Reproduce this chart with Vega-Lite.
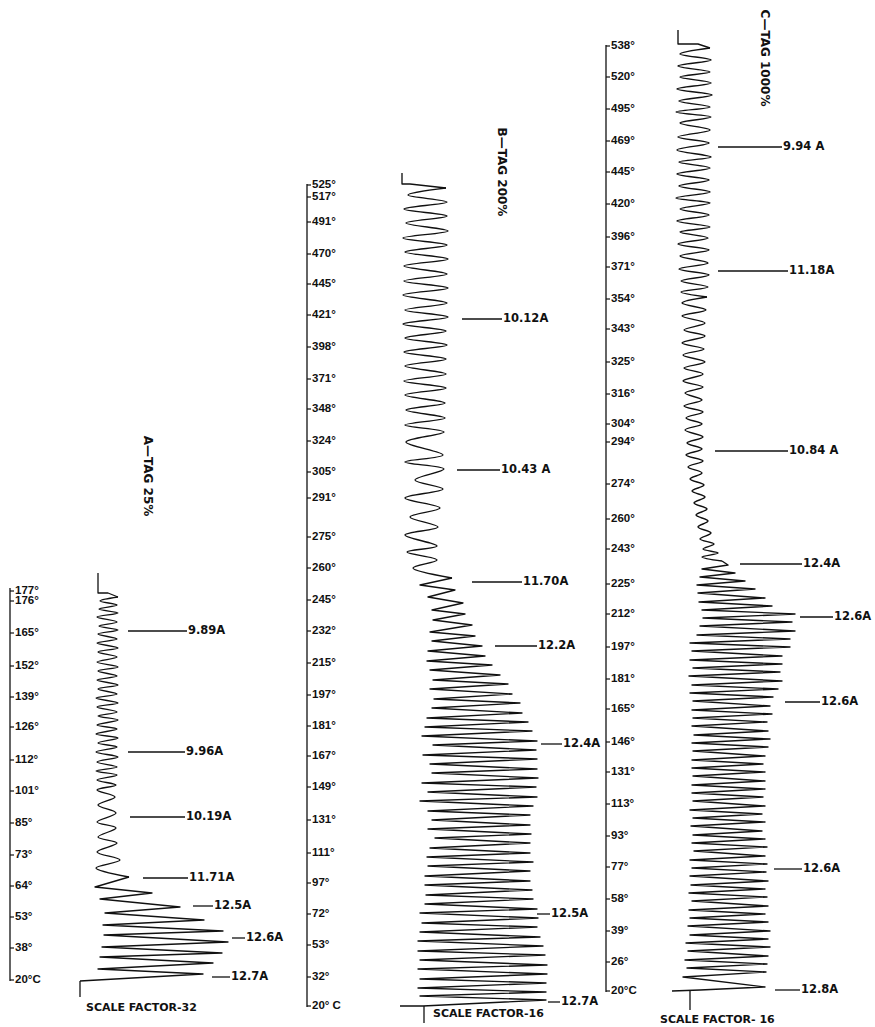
{
"$schema":"https://vega.github.io/schema/vega-lite/v6.json",
"width":875,"height":1027,
"autosize":{"type":"fit","contains":"padding"},
"padding":0,
"background":"white",
"config":{"view":{"stroke":null}},
"datasets":{
"trace":[
{"t":"A0","x":98,"y":573},{"t":"A0","x":98,"y":593},{"t":"A0","x":108,"y":593},{"t":"A0","x":118,"y":597},
{"t":"A1","x":118,"y":597},{"t":"A1","x":100,"y":601},{"t":"A1","x":117,"y":605},{"t":"A1","x":99,"y":609},{"t":"A1","x":118,"y":613},{"t":"A1","x":97,"y":617},{"t":"A1","x":117,"y":622},{"t":"A1","x":99,"y":626},{"t":"A1","x":118,"y":630},{"t":"A1","x":98,"y":634},{"t":"A1","x":117,"y":639},{"t":"A1","x":97,"y":643},{"t":"A1","x":118,"y":648},{"t":"A1","x":98,"y":652},{"t":"A1","x":117,"y":657},{"t":"A1","x":97,"y":662},{"t":"A1","x":118,"y":667},{"t":"A1","x":98,"y":671},{"t":"A1","x":117,"y":676},{"t":"A1","x":97,"y":680},{"t":"A1","x":118,"y":685},{"t":"A1","x":98,"y":689},{"t":"A1","x":117,"y":694},{"t":"A1","x":96,"y":698},{"t":"A1","x":118,"y":703},{"t":"A1","x":97,"y":707},{"t":"A1","x":117,"y":712},{"t":"A1","x":98,"y":716},{"t":"A1","x":118,"y":720},{"t":"A1","x":97,"y":725},{"t":"A1","x":117,"y":729},{"t":"A1","x":96,"y":734},{"t":"A1","x":118,"y":738},{"t":"A1","x":98,"y":743},{"t":"A1","x":117,"y":747},{"t":"A1","x":96,"y":752},{"t":"A1","x":118,"y":757},{"t":"A1","x":97,"y":762},{"t":"A1","x":117,"y":767},{"t":"A1","x":96,"y":771},{"t":"A1","x":117,"y":775},{"t":"A1","x":97,"y":780},{"t":"A1","x":116,"y":785},{"t":"A1","x":97,"y":790},{"t":"A1","x":115,"y":797},{"t":"A1","x":98,"y":805},{"t":"A1","x":116,"y":813},{"t":"A1","x":97,"y":822},{"t":"A1","x":116,"y":828},{"t":"A1","x":98,"y":837},{"t":"A1","x":117,"y":843},{"t":"A1","x":97,"y":852},{"t":"A1","x":120,"y":860},{"t":"A1","x":96,"y":868},{"t":"A1","x":129,"y":877},
{"t":"A2","x":129,"y":877},{"t":"A2","x":95,"y":887},{"t":"A2","x":152,"y":893},{"t":"A2","x":100,"y":899},{"t":"A2","x":180,"y":907},{"t":"A2","x":105,"y":913},{"t":"A2","x":204,"y":920},{"t":"A2","x":103,"y":925},{"t":"A2","x":223,"y":931},{"t":"A2","x":104,"y":935},{"t":"A2","x":228,"y":942},{"t":"A2","x":102,"y":947},{"t":"A2","x":222,"y":953},{"t":"A2","x":100,"y":957},{"t":"A2","x":213,"y":963},{"t":"A2","x":98,"y":969},{"t":"A2","x":203,"y":974},{"t":"A2","x":80,"y":981},
{"t":"B0","x":402,"y":173},{"t":"B0","x":402,"y":184},{"t":"B0","x":410,"y":184},{"t":"B0","x":446,"y":188},
{"t":"B1","x":446,"y":188},{"t":"B1","x":408,"y":195},{"t":"B1","x":447,"y":202},{"t":"B1","x":404,"y":209},{"t":"B1","x":447,"y":216},{"t":"B1","x":406,"y":223},{"t":"B1","x":448,"y":231},{"t":"B1","x":403,"y":238},{"t":"B1","x":447,"y":245},{"t":"B1","x":405,"y":252},{"t":"B1","x":448,"y":259},{"t":"B1","x":404,"y":266},{"t":"B1","x":447,"y":274},{"t":"B1","x":404,"y":281},{"t":"B1","x":448,"y":288},{"t":"B1","x":403,"y":295},{"t":"B1","x":447,"y":303},{"t":"B1","x":405,"y":310},{"t":"B1","x":448,"y":317},{"t":"B1","x":403,"y":324},{"t":"B1","x":446,"y":331},{"t":"B1","x":405,"y":338},{"t":"B1","x":447,"y":345},{"t":"B1","x":404,"y":352},{"t":"B1","x":446,"y":359},{"t":"B1","x":405,"y":366},{"t":"B1","x":446,"y":374},{"t":"B1","x":404,"y":381},{"t":"B1","x":446,"y":388},{"t":"B1","x":405,"y":395},{"t":"B1","x":445,"y":403},{"t":"B1","x":406,"y":410},{"t":"B1","x":445,"y":418},{"t":"B1","x":405,"y":425},{"t":"B1","x":444,"y":432},{"t":"B1","x":406,"y":442},{"t":"B1","x":443,"y":455},{"t":"B1","x":405,"y":462},{"t":"B1","x":444,"y":469},{"t":"B1","x":415,"y":480},{"t":"B1","x":443,"y":489},{"t":"B1","x":405,"y":498},{"t":"B1","x":440,"y":508},{"t":"B1","x":410,"y":517},{"t":"B1","x":438,"y":527},{"t":"B1","x":405,"y":535},{"t":"B1","x":437,"y":546},{"t":"B1","x":407,"y":552},{"t":"B1","x":437,"y":560},{"t":"B1","x":413,"y":568},{"t":"B1","x":452,"y":578},
{"t":"B2","x":452,"y":578},{"t":"B2","x":420,"y":585},{"t":"B2","x":455,"y":590},{"t":"B2","x":428,"y":597},{"t":"B2","x":463,"y":603},{"t":"B2","x":432,"y":610},{"t":"B2","x":465,"y":614},{"t":"B2","x":433,"y":620},{"t":"B2","x":472,"y":625},{"t":"B2","x":430,"y":632},{"t":"B2","x":475,"y":636},{"t":"B2","x":432,"y":641},{"t":"B2","x":482,"y":646},{"t":"B2","x":428,"y":651},{"t":"B2","x":485,"y":656},{"t":"B2","x":427,"y":661},{"t":"B2","x":492,"y":665},{"t":"B2","x":430,"y":670},{"t":"B2","x":500,"y":675},{"t":"B2","x":433,"y":680},{"t":"B2","x":508,"y":684},{"t":"B2","x":430,"y":689},{"t":"B2","x":512,"y":694},{"t":"B2","x":434,"y":699},{"t":"B2","x":520,"y":703},{"t":"B2","x":432,"y":708},{"t":"B2","x":522,"y":713},{"t":"B2","x":427,"y":718},{"t":"B2","x":528,"y":722},{"t":"B2","x":425,"y":727},{"t":"B2","x":532,"y":731},{"t":"B2","x":422,"y":736},{"t":"B2","x":537,"y":741},{"t":"B2","x":433,"y":745},{"t":"B2","x":536,"y":750},{"t":"B2","x":423,"y":755},{"t":"B2","x":537,"y":759},{"t":"B2","x":430,"y":764},{"t":"B2","x":537,"y":769},{"t":"B2","x":432,"y":773},{"t":"B2","x":538,"y":778},{"t":"B2","x":422,"y":783},{"t":"B2","x":536,"y":787},{"t":"B2","x":428,"y":792},{"t":"B2","x":537,"y":797},{"t":"B2","x":420,"y":801},{"t":"B2","x":533,"y":806},{"t":"B2","x":428,"y":811},{"t":"B2","x":530,"y":815},{"t":"B2","x":432,"y":820},{"t":"B2","x":530,"y":825},{"t":"B2","x":428,"y":829},{"t":"B2","x":531,"y":834},{"t":"B2","x":435,"y":838},{"t":"B2","x":530,"y":843},{"t":"B2","x":430,"y":848},{"t":"B2","x":530,"y":853},{"t":"B2","x":427,"y":857},{"t":"B2","x":533,"y":862},{"t":"B2","x":428,"y":866},{"t":"B2","x":530,"y":871},{"t":"B2","x":425,"y":876},{"t":"B2","x":530,"y":881},{"t":"B2","x":425,"y":885},{"t":"B2","x":532,"y":890},{"t":"B2","x":426,"y":895},{"t":"B2","x":533,"y":899},{"t":"B2","x":425,"y":904},{"t":"B2","x":537,"y":909},{"t":"B2","x":420,"y":913},{"t":"B2","x":538,"y":918},{"t":"B2","x":422,"y":923},{"t":"B2","x":537,"y":927},{"t":"B2","x":420,"y":932},{"t":"B2","x":540,"y":937},{"t":"B2","x":418,"y":941},{"t":"B2","x":543,"y":946},{"t":"B2","x":418,"y":951},{"t":"B2","x":545,"y":955},{"t":"B2","x":420,"y":960},{"t":"B2","x":547,"y":965},{"t":"B2","x":418,"y":969},{"t":"B2","x":547,"y":974},{"t":"B2","x":420,"y":979},{"t":"B2","x":546,"y":983},{"t":"B2","x":418,"y":988},{"t":"B2","x":546,"y":992},{"t":"B2","x":420,"y":996},{"t":"B2","x":546,"y":1000},{"t":"B2","x":423,"y":1006},{"t":"B2","x":400,"y":1006},
{"t":"C0","x":678,"y":30},{"t":"C0","x":678,"y":44},{"t":"C0","x":698,"y":44},{"t":"C0","x":710,"y":48},
{"t":"C1","x":710,"y":48},{"t":"C1","x":680,"y":54},{"t":"C1","x":711,"y":60},{"t":"C1","x":678,"y":66},{"t":"C1","x":710,"y":72},{"t":"C1","x":680,"y":77},{"t":"C1","x":711,"y":83},{"t":"C1","x":677,"y":89},{"t":"C1","x":712,"y":95},{"t":"C1","x":679,"y":101},{"t":"C1","x":710,"y":107},{"t":"C1","x":676,"y":112},{"t":"C1","x":711,"y":117},{"t":"C1","x":680,"y":123},{"t":"C1","x":710,"y":130},{"t":"C1","x":678,"y":137},{"t":"C1","x":709,"y":143},{"t":"C1","x":677,"y":150},{"t":"C1","x":711,"y":157},{"t":"C1","x":679,"y":162},{"t":"C1","x":710,"y":168},{"t":"C1","x":677,"y":174},{"t":"C1","x":709,"y":180},{"t":"C1","x":679,"y":186},{"t":"C1","x":710,"y":192},{"t":"C1","x":676,"y":198},{"t":"C1","x":710,"y":203},{"t":"C1","x":680,"y":209},{"t":"C1","x":709,"y":215},{"t":"C1","x":677,"y":221},{"t":"C1","x":710,"y":227},{"t":"C1","x":680,"y":232},{"t":"C1","x":708,"y":238},{"t":"C1","x":678,"y":244},{"t":"C1","x":709,"y":250},{"t":"C1","x":680,"y":256},{"t":"C1","x":708,"y":263},{"t":"C1","x":679,"y":269},{"t":"C1","x":709,"y":275},{"t":"C1","x":681,"y":281},{"t":"C1","x":708,"y":287},{"t":"C1","x":681,"y":292},{"t":"C1","x":707,"y":297},
{"t":"C2","x":707,"y":297},{"t":"C2","x":682,"y":303},{"t":"C2","x":706,"y":310},{"t":"C2","x":682,"y":316},{"t":"C2","x":705,"y":323},{"t":"C2","x":684,"y":330},{"t":"C2","x":705,"y":336},{"t":"C2","x":682,"y":343},{"t":"C2","x":704,"y":349},{"t":"C2","x":683,"y":355},{"t":"C2","x":705,"y":362},{"t":"C2","x":684,"y":368},{"t":"C2","x":703,"y":374},{"t":"C2","x":683,"y":381},{"t":"C2","x":703,"y":387},{"t":"C2","x":685,"y":393},{"t":"C2","x":702,"y":400},{"t":"C2","x":684,"y":406},{"t":"C2","x":703,"y":412},{"t":"C2","x":686,"y":418},{"t":"C2","x":702,"y":424},{"t":"C2","x":685,"y":430},{"t":"C2","x":703,"y":437},{"t":"C2","x":687,"y":443},{"t":"C2","x":702,"y":449},{"t":"C2","x":686,"y":455},{"t":"C2","x":703,"y":461},{"t":"C2","x":688,"y":467},{"t":"C2","x":702,"y":473},{"t":"C2","x":690,"y":479},{"t":"C2","x":704,"y":485},{"t":"C2","x":692,"y":491},{"t":"C2","x":705,"y":497},{"t":"C2","x":694,"y":503},{"t":"C2","x":707,"y":509},{"t":"C2","x":696,"y":515},{"t":"C2","x":708,"y":521},{"t":"C2","x":698,"y":527},{"t":"C2","x":711,"y":533},{"t":"C2","x":700,"y":539},{"t":"C2","x":714,"y":544},{"t":"C2","x":703,"y":549},{"t":"C2","x":718,"y":553},{"t":"C2","x":702,"y":557},{"t":"C2","x":722,"y":561},
{"t":"C3","x":722,"y":561},{"t":"C3","x":728,"y":565},{"t":"C3","x":702,"y":569},{"t":"C3","x":735,"y":573},{"t":"C3","x":700,"y":577},{"t":"C3","x":745,"y":581},{"t":"C3","x":697,"y":585},{"t":"C3","x":755,"y":589},{"t":"C3","x":698,"y":593},{"t":"C3","x":765,"y":598},{"t":"C3","x":699,"y":602},{"t":"C3","x":772,"y":606},{"t":"C3","x":702,"y":610},{"t":"C3","x":795,"y":614},{"t":"C3","x":703,"y":618},{"t":"C3","x":792,"y":622},{"t":"C3","x":700,"y":626},{"t":"C3","x":795,"y":631},{"t":"C3","x":697,"y":635},{"t":"C3","x":790,"y":639},{"t":"C3","x":690,"y":643},{"t":"C3","x":790,"y":647},{"t":"C3","x":692,"y":651},{"t":"C3","x":782,"y":656},{"t":"C3","x":690,"y":660},{"t":"C3","x":782,"y":664},{"t":"C3","x":693,"y":668},{"t":"C3","x":780,"y":672},{"t":"C3","x":689,"y":676},{"t":"C3","x":782,"y":681},{"t":"C3","x":692,"y":685},{"t":"C3","x":778,"y":689},{"t":"C3","x":690,"y":693},{"t":"C3","x":773,"y":697},{"t":"C3","x":693,"y":701},{"t":"C3","x":770,"y":706},{"t":"C3","x":692,"y":710},{"t":"C3","x":772,"y":714},{"t":"C3","x":693,"y":718},{"t":"C3","x":767,"y":722},{"t":"C3","x":692,"y":726},{"t":"C3","x":768,"y":731},{"t":"C3","x":694,"y":735},{"t":"C3","x":770,"y":739},{"t":"C3","x":692,"y":743},{"t":"C3","x":768,"y":747},{"t":"C3","x":693,"y":751},{"t":"C3","x":765,"y":756},{"t":"C3","x":692,"y":760},{"t":"C3","x":763,"y":764},{"t":"C3","x":692,"y":768},{"t":"C3","x":765,"y":772},{"t":"C3","x":693,"y":776},{"t":"C3","x":765,"y":781},{"t":"C3","x":692,"y":785},{"t":"C3","x":765,"y":789},{"t":"C3","x":692,"y":793},{"t":"C3","x":763,"y":797},{"t":"C3","x":693,"y":801},{"t":"C3","x":765,"y":806},{"t":"C3","x":690,"y":810},{"t":"C3","x":762,"y":814},{"t":"C3","x":693,"y":818},{"t":"C3","x":765,"y":822},{"t":"C3","x":691,"y":826},{"t":"C3","x":762,"y":831},{"t":"C3","x":693,"y":835},{"t":"C3","x":765,"y":839},{"t":"C3","x":692,"y":843},{"t":"C3","x":767,"y":847},{"t":"C3","x":694,"y":851},{"t":"C3","x":765,"y":856},{"t":"C3","x":690,"y":860},{"t":"C3","x":767,"y":864},{"t":"C3","x":692,"y":868},{"t":"C3","x":766,"y":872},{"t":"C3","x":690,"y":876},{"t":"C3","x":768,"y":881},{"t":"C3","x":691,"y":885},{"t":"C3","x":765,"y":889},{"t":"C3","x":689,"y":893},{"t":"C3","x":767,"y":897},{"t":"C3","x":692,"y":901},{"t":"C3","x":768,"y":906},{"t":"C3","x":689,"y":910},{"t":"C3","x":765,"y":914},{"t":"C3","x":690,"y":918},{"t":"C3","x":768,"y":922},{"t":"C3","x":688,"y":926},{"t":"C3","x":770,"y":931},{"t":"C3","x":690,"y":935},{"t":"C3","x":768,"y":939},{"t":"C3","x":686,"y":943},{"t":"C3","x":770,"y":947},{"t":"C3","x":688,"y":951},{"t":"C3","x":768,"y":956},{"t":"C3","x":685,"y":960},{"t":"C3","x":767,"y":964},{"t":"C3","x":687,"y":968},{"t":"C3","x":766,"y":972},{"t":"C3","x":683,"y":977},{"t":"C3","x":765,"y":987},{"t":"C3","x":700,"y":990},{"t":"C3","x":672,"y":991}
],
"vlines":[
{"x":10,"y":588,"y2":981},{"x":307,"y":184,"y2":1007},{"x":606,"y":45,"y2":992},
{"x":80,"y":981,"y2":997},{"x":424,"y":1006,"y2":1023},{"x":690,"y":991,"y2":1010}
],
"ticks":[
{"x":10,"y":591,"label":"177°"},{"x":10,"y":601,"label":"176°"},{"x":10,"y":633,"label":"165°"},{"x":10,"y":666,"label":"152°"},{"x":10,"y":697,"label":"139°"},{"x":10,"y":727,"label":"126°"},{"x":10,"y":760,"label":"112°"},{"x":10,"y":791,"label":"101°"},{"x":10,"y":823,"label":"85°"},{"x":10,"y":855,"label":"73°"},{"x":10,"y":886,"label":"64°"},{"x":10,"y":917,"label":"53°"},{"x":10,"y":948,"label":"38°"},{"x":10,"y":980,"label":"20°C"},
{"x":307,"y":185,"label":"525°"},{"x":307,"y":197,"label":"517°"},{"x":307,"y":222,"label":"491°"},{"x":307,"y":254,"label":"470°"},{"x":307,"y":284,"label":"445°"},{"x":307,"y":315,"label":"421°"},{"x":307,"y":347,"label":"398°"},{"x":307,"y":379,"label":"371°"},{"x":307,"y":409,"label":"348°"},{"x":307,"y":441,"label":"324°"},{"x":307,"y":472,"label":"305°"},{"x":307,"y":498,"label":"291°"},{"x":307,"y":537,"label":"275°"},{"x":307,"y":568,"label":"260°"},{"x":307,"y":600,"label":"245°"},{"x":307,"y":631,"label":"232°"},{"x":307,"y":663,"label":"215°"},{"x":307,"y":695,"label":"197°"},{"x":307,"y":726,"label":"181°"},{"x":307,"y":756,"label":"167°"},{"x":307,"y":787,"label":"149°"},{"x":307,"y":820,"label":"131°"},{"x":307,"y":853,"label":"111°"},{"x":307,"y":883,"label":"97°"},{"x":307,"y":914,"label":"72°"},{"x":307,"y":945,"label":"53°"},{"x":307,"y":977,"label":"32°"},{"x":307,"y":1006,"label":"20° C"},
{"x":606,"y":46,"label":"538°"},{"x":606,"y":77,"label":"520°"},{"x":606,"y":109,"label":"495°"},{"x":606,"y":141,"label":"469°"},{"x":606,"y":172,"label":"445°"},{"x":606,"y":204,"label":"420°"},{"x":606,"y":237,"label":"396°"},{"x":606,"y":267,"label":"371°"},{"x":606,"y":299,"label":"354°"},{"x":606,"y":329,"label":"343°"},{"x":606,"y":362,"label":"325°"},{"x":606,"y":394,"label":"316°"},{"x":606,"y":424,"label":"304°"},{"x":606,"y":442,"label":"294°"},{"x":606,"y":484,"label":"274°"},{"x":606,"y":519,"label":"260°"},{"x":606,"y":549,"label":"243°"},{"x":606,"y":584,"label":"225°"},{"x":606,"y":614,"label":"212°"},{"x":606,"y":647,"label":"197°"},{"x":606,"y":679,"label":"181°"},{"x":606,"y":709,"label":"165°"},{"x":606,"y":742,"label":"146°"},{"x":606,"y":772,"label":"131°"},{"x":606,"y":804,"label":"113°"},{"x":606,"y":836,"label":"93°"},{"x":606,"y":867,"label":"77°"},{"x":606,"y":899,"label":"58°"},{"x":606,"y":931,"label":"39°"},{"x":606,"y":962,"label":"26°"},{"x":606,"y":991,"label":"20°C"}
],
"notes":[
{"x":128,"x2":187,"y":631,"label":"9.89A"},{"x":128,"x2":185,"y":752,"label":"9.96A"},{"x":130,"x2":185,"y":817,"label":"10.19A"},{"x":143,"x2":188,"y":878,"label":"11.71A"},{"x":193,"x2":213,"y":906,"label":"12.5A"},{"x":232,"x2":245,"y":938,"label":"12.6A"},{"x":212,"x2":230,"y":977,"label":"12.7A"},
{"x":462,"x2":502,"y":319,"label":"10.12A"},{"x":457,"x2":500,"y":470,"label":"10.43 A"},{"x":472,"x2":522,"y":582,"label":"11.70A"},{"x":495,"x2":537,"y":646,"label":"12.2A"},{"x":541,"x2":562,"y":744,"label":"12.4A"},{"x":537,"x2":550,"y":914,"label":"12.5A"},{"x":548,"x2":560,"y":1002,"label":"12.7A"},
{"x":718,"x2":782,"y":147,"label":"9.94 A"},{"x":718,"x2":788,"y":271,"label":"11.18A"},{"x":715,"x2":788,"y":451,"label":"10.84 A"},{"x":740,"x2":802,"y":564,"label":"12.4A"},{"x":800,"x2":833,"y":617,"label":"12.6A"},{"x":785,"x2":820,"y":702,"label":"12.6A"},{"x":774,"x2":802,"y":869,"label":"12.6A"},{"x":775,"x2":800,"y":990,"label":"12.8A"}
],
"titles":[
{"x":148,"y":476,"label":"A—TAG 25%"},{"x":502,"y":172,"label":"B—TAG 200%"},{"x":765,"y":58,"label":"C—TAG 1000%"}
],
"scales":[
{"x":86,"y":1008,"label":"SCALE FACTOR-32"},{"x":433,"y":1014,"label":"SCALE FACTOR-16"},{"x":660,"y":1020,"label":"SCALE FACTOR- 16"}
]
},
"encoding":{
"x":{"field":"x","type":"quantitative","scale":{"domain":[0,875],"nice":false,"zero":false},"axis":null},
"y":{"field":"y","type":"quantitative","scale":{"domain":[0,1027],"nice":false,"zero":false,"reverse":true},"axis":null}
},
"layer":[
{"data":{"name":"trace"},"transform":[{"filter":{"field":"t","oneOf":["A0","A2","B0","B2","C0","C3"]}}],
"mark":{"type":"line","color":"#111111","strokeJoin":"round"},
"encoding":{"detail":{"field":"t"},"order":{"value":null},
"strokeWidth":{"field":"t","type":"nominal","scale":{"domain":["A0","A1","A2","B0","B1","B2","C0","C1","C2","C3"],"range":[1.3,1.4,1.2,1.3,1.4,1.2,1.6,1.8,2.7,1.2]},"legend":null}}},
{"data":{"name":"trace"},"transform":[{"filter":{"field":"t","oneOf":["A1","B1","C1","C2"]}}],
"mark":{"type":"line","color":"#111111","strokeJoin":"round","interpolate":"catmull-rom"},
"encoding":{"detail":{"field":"t"},"order":{"value":null},
"strokeWidth":{"field":"t","type":"nominal","scale":{"domain":["A0","A1","A2","B0","B1","B2","C0","C1","C2","C3"],"range":[1.3,1.4,1.2,1.3,1.4,1.2,1.6,1.8,2.7,1.2]},"legend":null}}},
{"data":{"name":"vlines"},"mark":{"type":"rule","color":"#111111","strokeWidth":1.3},
"encoding":{"y2":{"field":"y2"}}},
{"data":{"name":"ticks"},"mark":{"type":"rule","color":"#111111","strokeWidth":1.2,"x2Offset":4},
"encoding":{"x2":{"field":"x"}}},
{"data":{"name":"ticks"},"mark":{"type":"text","align":"left","baseline":"middle","dx":5,"font":"Liberation Sans","fontSize":11.5,"fontWeight":"bold","color":"#111111"},
"encoding":{"text":{"field":"label"}}},
{"data":{"name":"notes"},"mark":{"type":"rule","color":"#111111","strokeWidth":1.3},
"encoding":{"x2":{"field":"x2"}}},
{"data":{"name":"notes"},"mark":{"type":"text","align":"left","baseline":"middle","dx":1,"font":"DejaVu Sans","fontSize":11.5,"fontWeight":"bold","color":"#111111"},
"encoding":{"x":{"field":"x2","type":"quantitative"},"text":{"field":"label"}}},
{"data":{"name":"titles"},"mark":{"type":"text","align":"center","baseline":"middle","angle":90,"font":"DejaVu Sans","fontSize":12,"fontWeight":"bold","color":"#111111"},
"encoding":{"text":{"field":"label"}}},
{"data":{"name":"scales"},"mark":{"type":"text","align":"left","baseline":"middle","font":"DejaVu Sans","fontSize":11,"fontWeight":"bold","color":"#111111"},
"encoding":{"text":{"field":"label"}}}
]
}
